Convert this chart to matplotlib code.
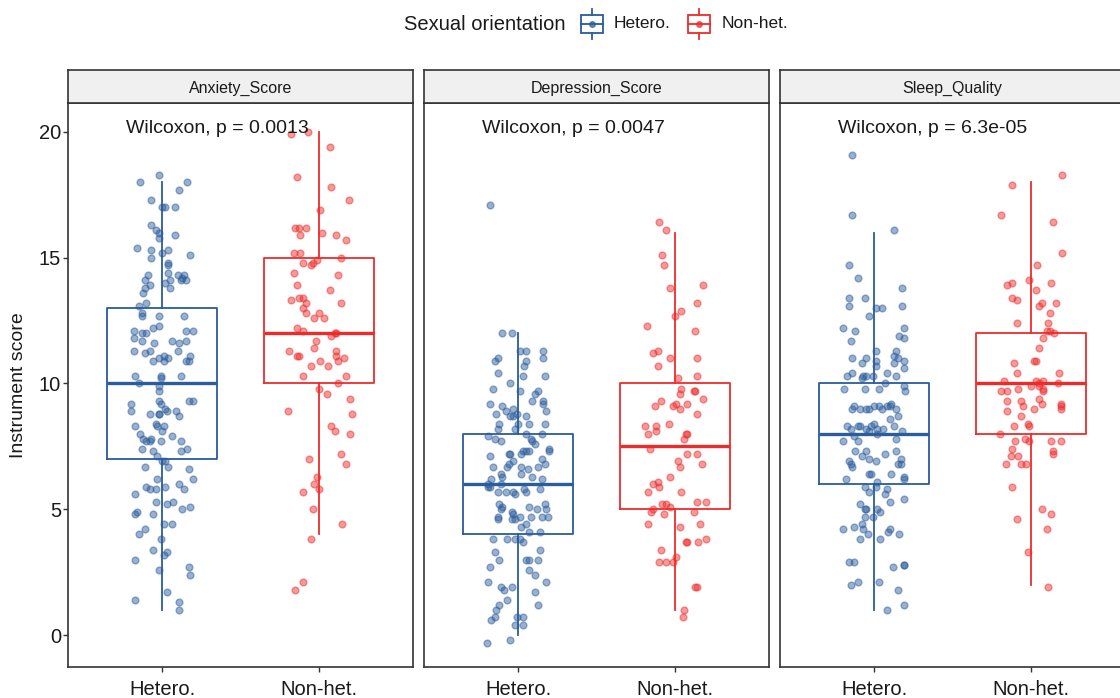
import matplotlib
matplotlib.use("Agg")
import matplotlib.pyplot as plt
from matplotlib.patches import Rectangle

plt.rcParams['font.family'] = ['Liberation Sans', 'DejaVu Sans']

# ── data ────────────────────────────────────────────────────
panels = ["Anxiety_Score", "Depression_Score", "Sleep_Quality"]
groups = ["Hetero.", "Non-het."]
p_labels = ["Wilcoxon, p = 0.0013", "Wilcoxon, p = 0.0047", "Wilcoxon, p = 6.3e-05"]

# box stats per panel: [hetero, non-het] -> (whislo, q1, med, q3, whishi)
box_stats = {
    "Anxiety_Score":    [(1, 7, 10, 13, 18), (4, 10, 12, 15, 20)],
    "Depression_Score": [(0, 4, 6, 8, 12), (1, 5, 7.5, 10, 16)],
    "Sleep_Quality":    [(1, 6, 8, 10, 16), (2, 8, 10, 12, 18)],
}

# jittered points (y value, horizontal jitter offset)
anx_het_y = [18.3, 18.0, 18.0, 17.7, 17.3, 17.0, 17.0, 17.0, 16.3, 16.1,
             16.0, 15.8, 15.9, 15.4, 15.3, 15.3, 15.2, 15.0, 15.1, 14.8,
             14.7, 14.3, 14.4, 14.3, 14.3, 14.2, 14.1, 14.1, 14.1, 14.0,
             14.1, 13.9, 13.8, 13.6, 13.8, 13.1, 13.2, 12.8, 12.7, 12.7,
             12.7, 12.1, 12.0, 12.0, 12.2, 12.3, 12.1, 12.1, 11.8, 11.7,
             11.6, 11.7, 11.6, 11.7, 11.3, 11.2, 11.3, 10.9, 11.0, 11.1,
             10.9, 11.0, 11.3, 10.9, 10.9, 11.1, 10.3, 10.3, 10.3, 10.2,
             10.0, 9.9, 9.7,
             9.2, 8.9, 9.3, 9.2, 9.3, 9.3, 8.8, 8.8, 8.8, 9.0,
             8.9, 8.9, 8.7, 8.3, 8.4, 8.3, 8.3, 8.1, 8.0, 7.8,
             7.7, 7.8, 7.7, 7.7, 7.9, 7.7, 7.4, 7.3, 7.1, 7.3,
             7.4, 6.9, 6.9, 6.7, 6.7, 6.6, 6.2, 6.2, 5.9, 5.8,
             5.8, 5.9, 6.0, 5.8, 5.6, 5.3, 5.2, 5.3, 5.0, 5.1,
             4.8, 4.9, 4.8, 4.4, 4.4, 4.2, 4.0, 3.8, 3.4, 3.2,
             3.3, 3.0, 2.6, 2.7, 2.4, 1.7, 1.4, 1.3, 1.0]
anx_het_dx = [-0.02, -0.14, 0.16, 0.11, -0.07, 0.00, 0.02, 0.08, -0.07, -0.04,
              -0.02, -0.02, 0.08, -0.16, -0.07, 0.04, 0.00, -0.07, 0.18, 0.04,
              0.04, -0.09, 0.04, 0.10, 0.14, 0.13, 0.15, 0.12, -0.11, 0.02,
              0.05, -0.08, -0.11, -0.12, 0.05, -0.15, -0.10, -0.13, -0.13, -0.02,
              0.14, -0.18, -0.13, -0.10, -0.06, -0.02, 0.15, 0.20, -0.18, -0.13,
              -0.05, 0.06, 0.11, 0.15, -0.18, -0.11, -0.08, -0.06, -0.02, 0.01,
              0.01, 0.04, 0.10, 0.15, 0.17, 0.18, -0.17, -0.01, 0.12, -0.01,
              -0.15, -0.02, -0.02,
              -0.20, -0.20, -0.02, -0.01, 0.17, 0.20, -0.08, -0.02, -0.02, 0.02,
              0.03, 0.09, 0.11, -0.17, -0.04, -0.03, 0.01, 0.00, -0.14, -0.12,
              -0.10, -0.07, -0.08, -0.01, 0.06, 0.12, -0.13, -0.06, -0.03, 0.12,
              0.16, 0.00, 0.02, 0.04, -0.11, 0.17, -0.03, 0.20, -0.10, -0.08,
              -0.04, 0.02, 0.11, 0.14, -0.17, -0.04, 0.03, 0.07, 0.13, 0.18,
              -0.17, -0.16, -0.06, 0.01, 0.06, -0.11, -0.15, -0.01, -0.06, 0.01,
              0.03, -0.17, -0.02, 0.17, 0.18, 0.03, -0.17, 0.11, 0.11]

anx_non_y = [19.9, 20.0, 19.4, 18.2, 17.8, 17.3, 16.9, 16.2, 16.2, 16.2,
             15.9, 16.0, 15.9, 15.7, 15.2, 15.2, 15.0, 14.8, 14.7, 14.8,
             14.9, 14.4, 14.3, 13.9, 13.7, 13.3, 13.4, 13.4, 13.2, 13.2,
             13.0, 12.8, 12.6, 12.8, 12.6, 12.2, 12.1, 11.9, 12.0, 12.0,
             11.7, 11.3, 11.1, 11.1, 11.4, 11.3, 11.1, 10.9, 11.0, 10.7,
             10.9, 10.7, 10.3, 10.3, 10.0, 9.8, 9.6, 9.4,
             8.9, 8.8, 8.3, 8.1, 8.0, 7.2, 7.0, 6.8, 6.3, 6.0,
             5.8, 5.7, 5.0, 4.4, 3.8, 2.1, 1.8]
anx_non_dx = [-0.18, -0.07, 0.07, -0.14, 0.08, 0.19, 0.01, -0.15, -0.13, -0.08,
              -0.12, 0.02, 0.11, 0.17, -0.16, -0.12, 0.14, -0.10, -0.05, -0.04,
              -0.01, -0.16, 0.12, -0.14, 0.07, -0.18, -0.13, -0.10, -0.08, 0.14,
              -0.10, -0.08, -0.03, 0.00, 0.03, -0.14, -0.10, 0.08, 0.10, 0.11,
              -0.02, -0.19, -0.14, -0.13, -0.03, 0.11, 0.11, 0.12, 0.16, -0.05,
              0.01, 0.06, -0.10, 0.17, 0.12, 0.00, 0.05, 0.20,
              -0.20, 0.21, 0.08, 0.10, 0.20, 0.14, -0.06, 0.17, -0.01, -0.03,
              0.00, -0.10, -0.04, 0.15, -0.05, -0.10, -0.15]

dep_het_y = [17.1, 12.0, 12.0, 11.3, 11.3, 11.3, 10.9, 11.0, 10.9, 10.7,
             11.0, 10.4, 10.3, 10.3, 10.0, 9.8, 9.7, 9.3, 9.6, 9.7,
             9.3, 9.2, 9.2, 9.1, 8.8, 8.9, 9.0, 8.8, 8.9, 8.7,
             8.7, 8.7, 8.4, 8.4, 8.2, 8.2, 8.4, 8.0, 8.4, 8.0,
             7.9, 7.8, 7.7, 7.8, 7.7, 7.6, 7.2, 7.2, 7.3, 7.3,
             7.3, 7.2, 7.4, 7.3, 7.1, 7.0, 6.7, 6.8, 6.7, 6.9,
             6.7, 6.6, 6.7, 6.8, 6.4, 6.4, 6.3, 6.3, 6.2, 6.2,
             6.0, 5.9, 6.0, 5.9, 5.8, 5.7, 5.7, 5.7, 5.6, 5.8,
             5.7, 5.2, 5.1, 5.1, 5.2, 5.0, 5.0, 4.9, 5.0, 4.7,
             4.6, 4.8, 4.6, 4.6, 4.7, 4.7, 4.7, 4.7, 4.3, 4.4,
             4.1, 4.1, 3.8, 3.8, 3.8, 3.8, 3.7, 3.3, 3.0, 3.0,
             3.0, 3.0, 3.4, 2.6, 2.4, 2.7, 2.1, 1.9, 1.8, 1.9,
             2.1, 1.4, 1.7, 1.2, 1.2, 1.0, 0.6, 0.7, 0.7, 0.7,
             0.4, 0.4, -0.3, -0.2]
dep_het_dx = [-0.18, -0.10, -0.04, 0.01, 0.05, 0.16, -0.15, -0.13, 0.05, 0.04,
              0.16, -0.13, 0.03, 0.17, -0.05, -0.16, 0.01, 0.09, 0.11, 0.13,
              0.16, 0.16, -0.18, -0.10, -0.14, -0.08, -0.03, -0.01, 0.18, -0.05,
              -0.03, 0.05, 0.07, -0.12, -0.13, -0.02, 0.00, 0.05, 0.17, 0.15,
              -0.19, -0.15, -0.11, 0.08, 0.09, 0.11, -0.05, -0.06, 0.03, 0.05,
              0.07, 0.02, 0.20, 0.20, -0.18, 0.15, -0.16, -0.06, -0.07, -0.03,
              0.02, 0.06, 0.13, 0.17, 0.02, -0.11, -0.10, 0.09, -0.17, 0.15,
              -0.19, -0.18, -0.11, -0.19, 0.14, -0.13, -0.08, -0.03, -0.02, 0.04,
              0.05, -0.12, -0.10, 0.07, 0.17, 0.18, -0.11, -0.04, 0.12, -0.13,
              -0.13, -0.03, -0.04, -0.02, 0.01, 0.08, 0.15, 0.19, 0.02, 0.05,
              0.07, 0.14, -0.16, -0.07, -0.02, 0.01, 0.03, -0.15, -0.12, 0.05,
              0.07, 0.13, 0.14, 0.07, 0.11, -0.18, -0.19, -0.11, -0.09, -0.04,
              0.18, -0.07, 0.11, -0.12, 0.13, -0.14, -0.17, -0.15, -0.01, 0.03,
              -0.02, 0.03, -0.20, -0.05]

dep_non_y = [16.4, 16.1, 15.1, 14.7, 13.8, 13.9, 13.2, 12.7, 12.9, 12.3,
             12.1, 11.2, 11.3, 11.0, 11.0, 10.7, 10.3, 10.2, 9.8, 9.7,
             9.7, 9.6, 9.1, 9.3, 9.1, 9.2, 9.0, 9.2, 9.4, 8.8,
             8.3, 8.3, 8.1, 8.0, 8.4, 7.8, 8.0, 8.0, 7.4, 7.2,
             7.2, 6.9, 6.7, 6.8, 6.3, 6.0, 6.1, 5.9, 5.7, 5.7,
             5.2, 5.2, 5.1, 5.3, 5.3, 4.9, 5.0, 4.9, 4.8, 4.4,
             4.4, 4.3, 3.7, 3.7, 3.7, 3.8, 3.4, 2.9, 2.9, 2.9,
             3.1, 1.9, 1.9, 1.0, 0.7]
dep_non_dx = [-0.10, -0.06, -0.08, -0.07, -0.03, 0.18, 0.14, 0.00, 0.04, -0.18,
              0.13, -0.14, -0.11, -0.03, 0.14, -0.11, 0.14, 0.02, 0.04, 0.12,
              0.13, 0.03, -0.13, -0.09, -0.01, 0.01, 0.03, 0.08, 0.18, 0.14,
              -0.19, -0.12, -0.12, -0.17, -0.04, 0.06, 0.07, 0.08, -0.16, 0.08,
              0.14, 0.02, 0.03, 0.17, -0.03, -0.14, -0.11, -0.10, -0.17, 0.04,
              -0.08, -0.06, -0.03, 0.14, 0.20, -0.15, -0.14, 0.12, -0.07, -0.17,
              0.16, 0.03, 0.07, 0.08, 0.15, 0.20, -0.09, -0.10, -0.06, -0.01,
              0.01, 0.13, 0.14, 0.06, 0.05]

slp_het_y = [19.1, 16.7, 16.1, 14.7, 14.2, 13.8, 13.4, 13.4, 13.1, 13.1,
             13.0, 13.0, 12.7, 12.2, 12.1, 12.2, 11.9, 11.8, 11.7, 11.3,
             11.3, 11.0, 11.0, 10.8, 10.9, 11.1, 11.0, 10.9, 10.7, 10.8,
             10.6, 10.3, 10.4, 10.2, 10.3, 10.3, 10.3, 10.4, 10.3, 10.0,
             9.9, 9.7, 9.8, 9.8, 9.8, 9.1, 9.0, 9.0, 9.0, 9.0,
             9.1, 9.1, 9.0, 9.1, 9.1, 9.2, 9.0, 8.6, 8.7, 8.3,
             8.2, 8.3, 8.3, 8.2, 8.3, 8.4, 8.2, 8.2, 8.3, 8.1,
             8.1, 8.0, 7.9, 7.8, 7.7, 7.7, 7.3, 7.1, 7.3, 7.0,
             6.9, 7.2, 7.3, 7.0, 6.8, 6.8, 6.9, 6.8, 6.7, 6.4,
             6.4, 6.4, 6.3, 6.2, 6.2, 5.9, 6.1, 5.9, 5.7, 5.8,
             5.6, 5.4, 5.3, 5.2, 5.0, 5.0, 5.0, 4.9, 4.7, 4.7,
             4.4, 4.2, 4.2, 4.3, 4.0, 4.2, 4.1, 4.0, 3.8, 3.8,
             2.9, 2.9, 2.7, 2.8, 2.8, 2.0, 2.1, 2.1, 1.8, 1.0,
             1.2]
slp_het_dx = [-0.14, -0.14, 0.13, -0.16, -0.10, 0.18, -0.16, -0.06, -0.16, 0.18,
              0.01, 0.05, -0.03, -0.20, -0.12, 0.19, 0.16, 0.19, -0.15, 0.01,
              0.14, -0.14, -0.05, -0.08, 0.01, 0.13, 0.15, 0.19, 0.01, 0.13,
              0.19, -0.17, -0.14, -0.08, -0.07, -0.05, -0.01, 0.08, 0.14, 0.07,
              0.19, 0.20, -0.19, -0.06, 0.03, -0.13, -0.14, -0.09, -0.05, -0.03,
              0.00, 0.03, 0.05, 0.08, 0.10, 0.11, 0.14, 0.10, 0.15, -0.17,
              -0.15, -0.10, -0.09, -0.05, -0.02, 0.00, 0.02, 0.06, 0.13, 0.18,
              -0.03, 0.02, -0.13, 0.14, -0.20, -0.10, -0.12, -0.08, -0.05, -0.03,
              0.01, 0.07, 0.14, 0.17, 0.15, 0.17, -0.16, -0.15, -0.14, -0.03,
              -0.02, 0.11, 0.19, 0.19, -0.18, -0.06, 0.02, 0.01, -0.03, 0.08,
              0.07, 0.19, 0.10, -0.09, -0.06, -0.05, 0.02, 0.04, -0.06, -0.01,
              -0.08, -0.07, -0.20, -0.13, -0.04, 0.10, 0.09, 0.16, -0.09, 0.04,
              -0.16, -0.13, 0.12, 0.19, 0.19, -0.15, -0.10, 0.03, 0.15, 0.08,
              0.19]

slp_non_y = [18.3, 17.9, 16.7, 16.4, 15.2, 14.7, 13.9, 14.0, 14.1, 14.0,
             13.7, 13.4, 13.3, 13.2, 13.1, 13.2, 12.8, 12.4, 12.4, 12.1,
             12.1, 12.0, 11.8, 11.4, 10.8, 10.9, 10.9, 10.4, 10.4, 10.1,
             10.1, 10.0, 10.1, 10.0, 9.7, 9.7, 9.8, 9.9, 9.9, 9.8,
             9.7, 9.3, 9.3, 9.1, 9.0, 9.4, 9.2, 9.2, 9.1, 9.0,
             8.9, 8.7, 8.4, 8.3, 8.3, 8.0, 7.7, 7.8, 7.7, 7.7,
             7.7, 7.4, 7.3, 7.2, 7.1, 7.1, 6.8, 6.8, 6.8, 5.9,
             5.0, 4.8, 4.6, 4.2, 3.3, 1.9]
slp_non_dx = [0.20, -0.12, -0.19, 0.14, 0.20, 0.04, -0.15, -0.12, -0.01, 0.13,
              0.03, -0.12, -0.09, 0.07, 0.05, 0.16, 0.12, -0.09, 0.11, 0.10,
              0.12, 0.15, 0.08, 0.05, -0.11, 0.02, 0.03, -0.09, 0.18, -0.17,
              0.03, 0.05, 0.08, 0.17, -0.19, -0.15, -0.08, 0.00, 0.05, 0.08,
              0.08, -0.15, -0.06, -0.05, 0.02, 0.05, 0.07, 0.19, 0.19, 0.19,
              -0.15, -0.06, -0.02, -0.01, -0.11, -0.20, -0.10, -0.04, -0.01, 0.13,
              0.19, -0.12, 0.14, 0.14, -0.13, -0.08, -0.16, -0.06, -0.03, -0.12,
              0.07, 0.13, -0.09, 0.10, -0.02, 0.11]

points = {
    "Anxiety_Score":    [(anx_het_dx, anx_het_y), (anx_non_dx, anx_non_y)],
    "Depression_Score": [(dep_het_dx, dep_het_y), (dep_non_dx, dep_non_y)],
    "Sleep_Quality":    [(slp_het_dx, slp_het_y), (slp_non_dx, slp_non_y)],
}

colors = ["#2B5C9C", "#EE2B2B"]
edge = "#333333"

# ── figure ──────────────────────────────────────────────────
W, H = 1120, 698
fig = plt.figure(figsize=(W / 100, H / 100), dpi=100)

# overlay in pixel coords for legend / y label
lay = fig.add_axes([0, 0, 1, 1])
lay.set_xlim(0, W)
lay.set_ylim(H, 0)
lay.axis("off")

panel_left = [68, 424, 780]
panel_w = 345
top, strip_top, bottom = 103, 70, 667

for i, name in enumerate(panels):
    x0 = panel_left[i]
    ax = fig.add_axes([x0 / W, 1 - bottom / H, panel_w / W, (bottom - top) / H])
    sx = fig.add_axes([x0 / W, 1 - top / H, panel_w / W, (top - strip_top) / H])

    # strip
    sx.set_facecolor("#F0F0F0")
    sx.set_xticks([])
    sx.set_yticks([])
    for s in sx.spines.values():
        s.set_color(edge)
        s.set_linewidth(1.2)
    sx.text(0.5, 0.45, name, ha="center", va="center", fontsize=11.5,
            color="#1A1A1A", transform=sx.transAxes)

    # boxes
    for g in range(2):
        lo, q1, med, q3, hi = box_stats[name][g]
        st = [dict(whislo=lo, q1=q1, med=med, q3=q3, whishi=hi, fliers=[])]
        c = colors[g]
        ax.bxp(st, positions=[g + 1], widths=0.7, showfliers=False, showcaps=False,
               patch_artist=False,
               boxprops=dict(color=c, linewidth=1.3),
               whiskerprops=dict(color=c, linewidth=1.3),
               medianprops=dict(color=c, linewidth=2.4))

    # jittered points
    for g in range(2):
        dx, ys = points[name][g]
        xs = [g + 1 + d for d in dx]
        ax.scatter(xs, ys, s=24, facecolor=colors[g], edgecolor=colors[g],
                   alpha=0.48, linewidths=1.0, zorder=3)

    ax.text(0.77, 20.12, p_labels[i], ha="left", va="center", fontsize=14,
            color="#1A1A1A")

    ax.set_xlim(0.4, 2.6)
    ax.set_ylim(-1.27, 21.15)
    ax.set_xticks([1, 2])
    ax.set_xticklabels(groups)
    ax.set_yticks([0, 5, 10, 15, 20])
    ax.tick_params(axis="both", length=3.5, color="#333333", width=1,
                   labelsize=14.5, labelcolor="#1A1A1A")
    ax.tick_params(axis="x", pad=6)
    ax.tick_params(axis="y", pad=1.5)
    if i > 0:
        ax.tick_params(axis="y", left=False, labelleft=False)
    for s in ax.spines.values():
        s.set_color(edge)
        s.set_linewidth(1.2)

# y label
lay.text(19, 385, "Instrument score", rotation=90, ha="center", va="center",
         fontsize=14, color="#1A1A1A")

# legend
lay.text(404, 24, "Sexual orientation", ha="left", va="center", fontsize=14.5,
         color="#1A1A1A")
key_cx = [592, 699]
lab_x = [614, 722]
for g in range(2):
    c = colors[g]
    cx = key_cx[g]
    lay.add_patch(Rectangle((cx - 11, 15), 22, 18, fill=False, edgecolor=c, linewidth=1.3))
    lay.plot([cx - 11, cx + 11], [24, 24], color=c, linewidth=1.3)
    lay.plot([cx, cx], [9, 15], color=c, linewidth=1.3)
    lay.plot([cx, cx], [33, 39], color=c, linewidth=1.3)
    lay.plot([cx], [24], marker="o", markersize=4, color=c, alpha=0.7)
    lay.text(lab_x[g], 24, groups[g], ha="left", va="center", fontsize=12.5,
             color="#1A1A1A")

fig.savefig("out.png", dpi=100)
plt.close(fig)
